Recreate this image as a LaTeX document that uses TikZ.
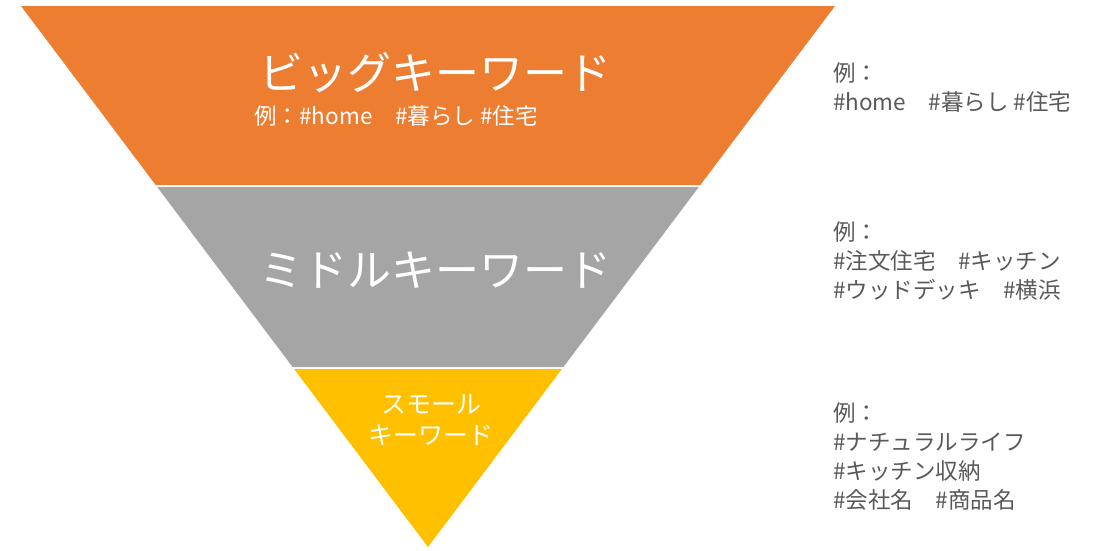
\documentclass[tikz,border=0pt]{standalone}
\usepackage{fontspec}
\setmainfont{Noto Sans CJK JP}
\definecolor{bigc}{HTML}{ED7D31}
\definecolor{midc}{HTML}{A5A5A5}
\definecolor{smallc}{HTML}{FFC000}
\definecolor{exc}{HTML}{595959}
\tikzset{
  band/.style={draw=none},
  title/.style={text=white, inner sep=0pt},
  example/.style={text=exc, inner sep=0pt, align=left, anchor=north west, font=\fontsize{22.5}{29}\selectfont},
}
\begin{document}
\begin{tikzpicture}[x=1pt,y=-1pt]
\useasboundingbox (0,0) rectangle (1102,550);
% corners
\coordinate (tl) at (21,6);
\coordinate (tr) at (835,6);
\coordinate (b1l) at (155.7,185);
\coordinate (b1r) at (700.3,185);
\coordinate (m1l) at (157.2,187);
\coordinate (m1r) at (698.8,187);
\coordinate (m2l) at (292.6,367);
\coordinate (m2r) at (563.4,367);
\coordinate (s1l) at (294.1,369);
\coordinate (s1r) at (561.9,369);
\coordinate (apex) at (428,547);
% bands
\fill[bigc] (tl) -- (tr) -- (b1r) -- (b1l) -- cycle;
\fill[midc] (m1l) -- (m1r) -- (m2r) -- (m2l) -- cycle;
\fill[smallc] (s1l) -- (s1r) -- (apex) -- cycle;
% titles
\node[title, font=\fontsize{44}{50}\selectfont] (bigt) at (435,73) {ビッグキーワード};
\node[title, font=\fontsize{22.5}{25}\selectfont] (bigs) at (396,116) {例：\#home　\#暮らし \#住宅};
\node[title, font=\fontsize{44}{50}\selectfont] (midt) at (435,270) {ミドルキーワード};
\node[title, font=\fontsize{25}{31}\selectfont, align=center] (smallt) at (431,420) {スモール\\キーワード};
% examples
\node[example] (ex1) at (833,62) {例：\\\#home　\#暮らし \#住宅};
\node[example] (ex2) at (833,221) {例：\\\#注文住宅　\#キッチン\\\#ウッドデッキ　\#横浜};
\node[example] (ex3) at (833,402) {例：\\\#ナチュラルライフ\\\#キッチン収納\\\#会社名　\#商品名};
\end{tikzpicture}
\end{document}
